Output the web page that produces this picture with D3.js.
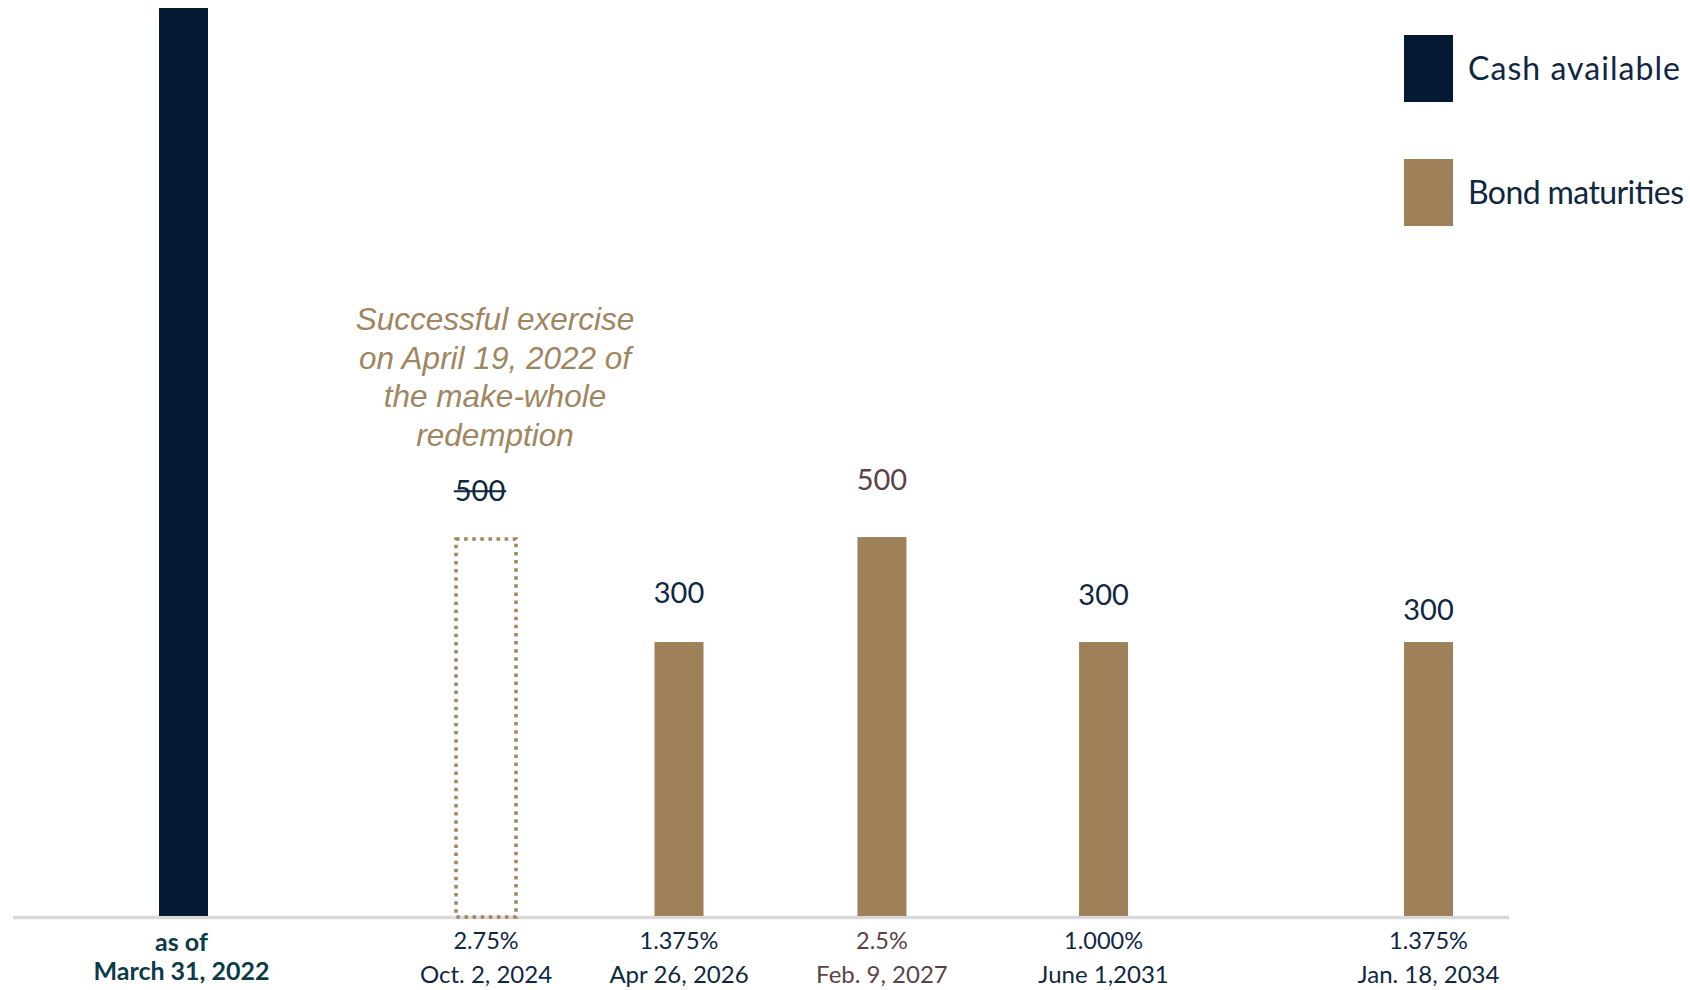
<!DOCTYPE html>
<html>
<head>
<meta charset="utf-8">
<script src="https://cdn.jsdelivr.net/npm/d3@7"></script>
<style>
    body { margin: 0; background: #ffffff; }
    svg { display: block; }
</style>
</head>
<body>
<div id="chart"></div>
<script>
// chart data
var categories = ["as of March 31, 2022", "Oct. 2, 2024", "Apr 26, 2026", "Feb. 9, 2027", "June 1,2031", "Jan. 18, 2034"];
var rates = ["", "2.75%", "1.375%", "2.5%", "1.000%", "1.375%"];
var values = [1508, 500, 300, 500, 300, 300];
var valueLabels = ["", "500", "300", "500", "300", "300"];
var kinds = ["cash", "redeemed", "bond", "bond", "bond", "bond"];
var legendNames = ["Cash available", "Bond maturities"];
var note = ["Successful exercise", "on April 19, 2022 of", "the make-whole", "redemption"];

// layout only (slot along the axis, gap of value label above bar, legend text width)
var slots = [0, 2.43, 3.98, 5.61, 7.39, 10];
var labelGap = [0, 36, 39, 47, 37, 22];
var legendWidth = [212, 216];

var navy = "#041a32", gold = "#9e8159";
var font = "Lato, 'Open Sans', sans-serif";

var svg = d3.select("#chart").append("svg")
    .attr("width", 1690).attr("height", 990);

//scales
var x = d3.scaleLinear().domain([0, 10]).range([183.5, 1428.5]);
var y = d3.scaleLinear().domain([-222, 1508]).range([916, 8]);
var barW = 49;

//base line
svg.append("line")
    .attr("x1", 13).attr("x2", 1509)
    .attr("y1", 917.5).attr("y2", 917.5)
    .attr("stroke", "#d9d9d9")
    .attr("stroke-width", 3.5);

var rows = categories.map(function(c, i){
    return {cat: c, rate: rates[i], v: values[i], lab: valueLabels[i], kind: kinds[i], slot: slots[i], gap: labelGap[i]};
});

//solid bars
svg.selectAll("rect.bar")
    .data(rows.filter(function(d){ return d.kind != "redeemed"; }))
    .enter().append("rect")
    .attr("class", "bar")
    .attr("x", function(d){ return x(d.slot) - barW / 2; })
    .attr("width", barW)
    .attr("y", function(d){ return y(d.v); })
    .attr("height", function(d){ return y(-222) - y(d.v); })
    .attr("fill", function(d){ return d.kind == "cash" ? navy : gold; });

//redeemed bond, dotted outline
var red = rows.filter(function(d){ return d.kind == "redeemed"; });
svg.selectAll("rect.redeemed")
    .data(red)
    .enter().append("rect")
    .attr("class", "redeemed")
    .attr("x", function(d){ return x(d.slot) - 30; })
    .attr("width", 60)
    .attr("y", function(d){ return y(d.v) + 2; })
    .attr("height", function(d){ return y(-222) - y(d.v) - 1; })
    .attr("fill", "none")
    .attr("stroke", "#a08660")
    .attr("stroke-width", 3.5)
    .attr("stroke-dasharray", "3.5 4.6");

//value labels
var labels = svg.selectAll("text.val")
    .data(rows.filter(function(d){ return d.lab != ""; }))
    .enter().append("text")
    .attr("class", "val")
    .attr("x", function(d){ return x(d.slot) + (d.kind == "redeemed" ? -6 : 0); })
    .attr("y", function(d){ return y(d.v) - d.gap; })
    .attr("text-anchor", "middle")
    .attr("font-family", font)
    .attr("font-size", 29)
    .attr("fill", function(d){ return d.cat == "Feb. 9, 2027" ? "#5a4346" : "#0f2741"; })
    .text(function(d){ return d.lab; });

//strike through the redeemed amount
labels.filter(function(d){ return d.kind == "redeemed"; }).each(function(d){
    var b = this.getBBox();
    svg.append("line")
        .attr("x1", b.x - 1).attr("x2", b.x + b.width + 1)
        .attr("y1", b.y + b.height * 0.55).attr("y2", b.y + b.height * 0.55)
        .attr("stroke", "#0f2741").attr("stroke-width", 2);
});

//bottom category labels
var bonds = rows.filter(function(d){ return d.kind != "cash"; });
svg.selectAll("text.rate")
    .data(bonds)
    .enter().append("text")
    .attr("class", "rate")
    .attr("x", function(d){ return x(d.slot); })
    .attr("y", 949)
    .attr("text-anchor", "middle")
    .attr("font-family", font)
    .attr("font-size", 23.5)
    .attr("fill", function(d){ return d.cat == "Feb. 9, 2027" ? "#5a4346" : "#0f2741"; })
    .text(function(d){ return d.rate; });

svg.selectAll("text.date")
    .data(bonds)
    .enter().append("text")
    .attr("class", "date")
    .attr("x", function(d){ return x(d.slot); })
    .attr("y", 983)
    .attr("text-anchor", "middle")
    .attr("font-family", font)
    .attr("font-size", 24)
    .attr("fill", function(d){ return d.cat == "Feb. 9, 2027" ? "#5a4346" : "#0f2741"; })
    .text(function(d){ return d.cat; });

//cash label in two lines
var cashLab = svg.append("text")
    .attr("text-anchor", "middle")
    .attr("font-family", font)
    .attr("font-weight", "bold")
    .attr("font-size", 25)
    .attr("fill", "#0c3b49");
cashLab.append("tspan").attr("x", x(slots[0]) - 2).attr("y", 951).text("as of");
cashLab.append("tspan").attr("x", x(slots[0]) - 2).attr("y", 980).text(categories[0].replace("as of ", ""));

//make-whole note
svg.append("text")
    .attr("text-anchor", "middle")
    .attr("font-family", "'Liberation Sans', Arial, sans-serif")
    .attr("font-style", "italic")
    .attr("font-size", 31.5)
    .attr("fill", "#a08660")
    .selectAll("tspan")
    .data(note)
    .enter().append("tspan")
    .attr("x", 495)
    .attr("y", function(d, i){ return 330 + 38.5 * i; })
    .text(function(d){ return d; });

//legend
var legend = svg.selectAll("g.legend")
    .data(legendNames)
    .enter().append("g")
    .attr("class", "legend")
    .attr("transform", function(d, i){ return "translate(1404," + (35 + 124 * i) + ")"; });
legend.append("rect")
    .attr("width", 49).attr("height", 67)
    .attr("fill", function(d, i){ return i == 0 ? navy : gold; });
legend.append("text")
    .attr("x", 64).attr("y", 45)
    .attr("font-family", font)
    .attr("font-size", 32)
    .attr("textLength", function(d, i){ return legendWidth[i]; })
    .attr("lengthAdjust", "spacing")
    .attr("fill", "#0f2741")
    .text(function(d){ return d; });
</script>
</body>
</html>
